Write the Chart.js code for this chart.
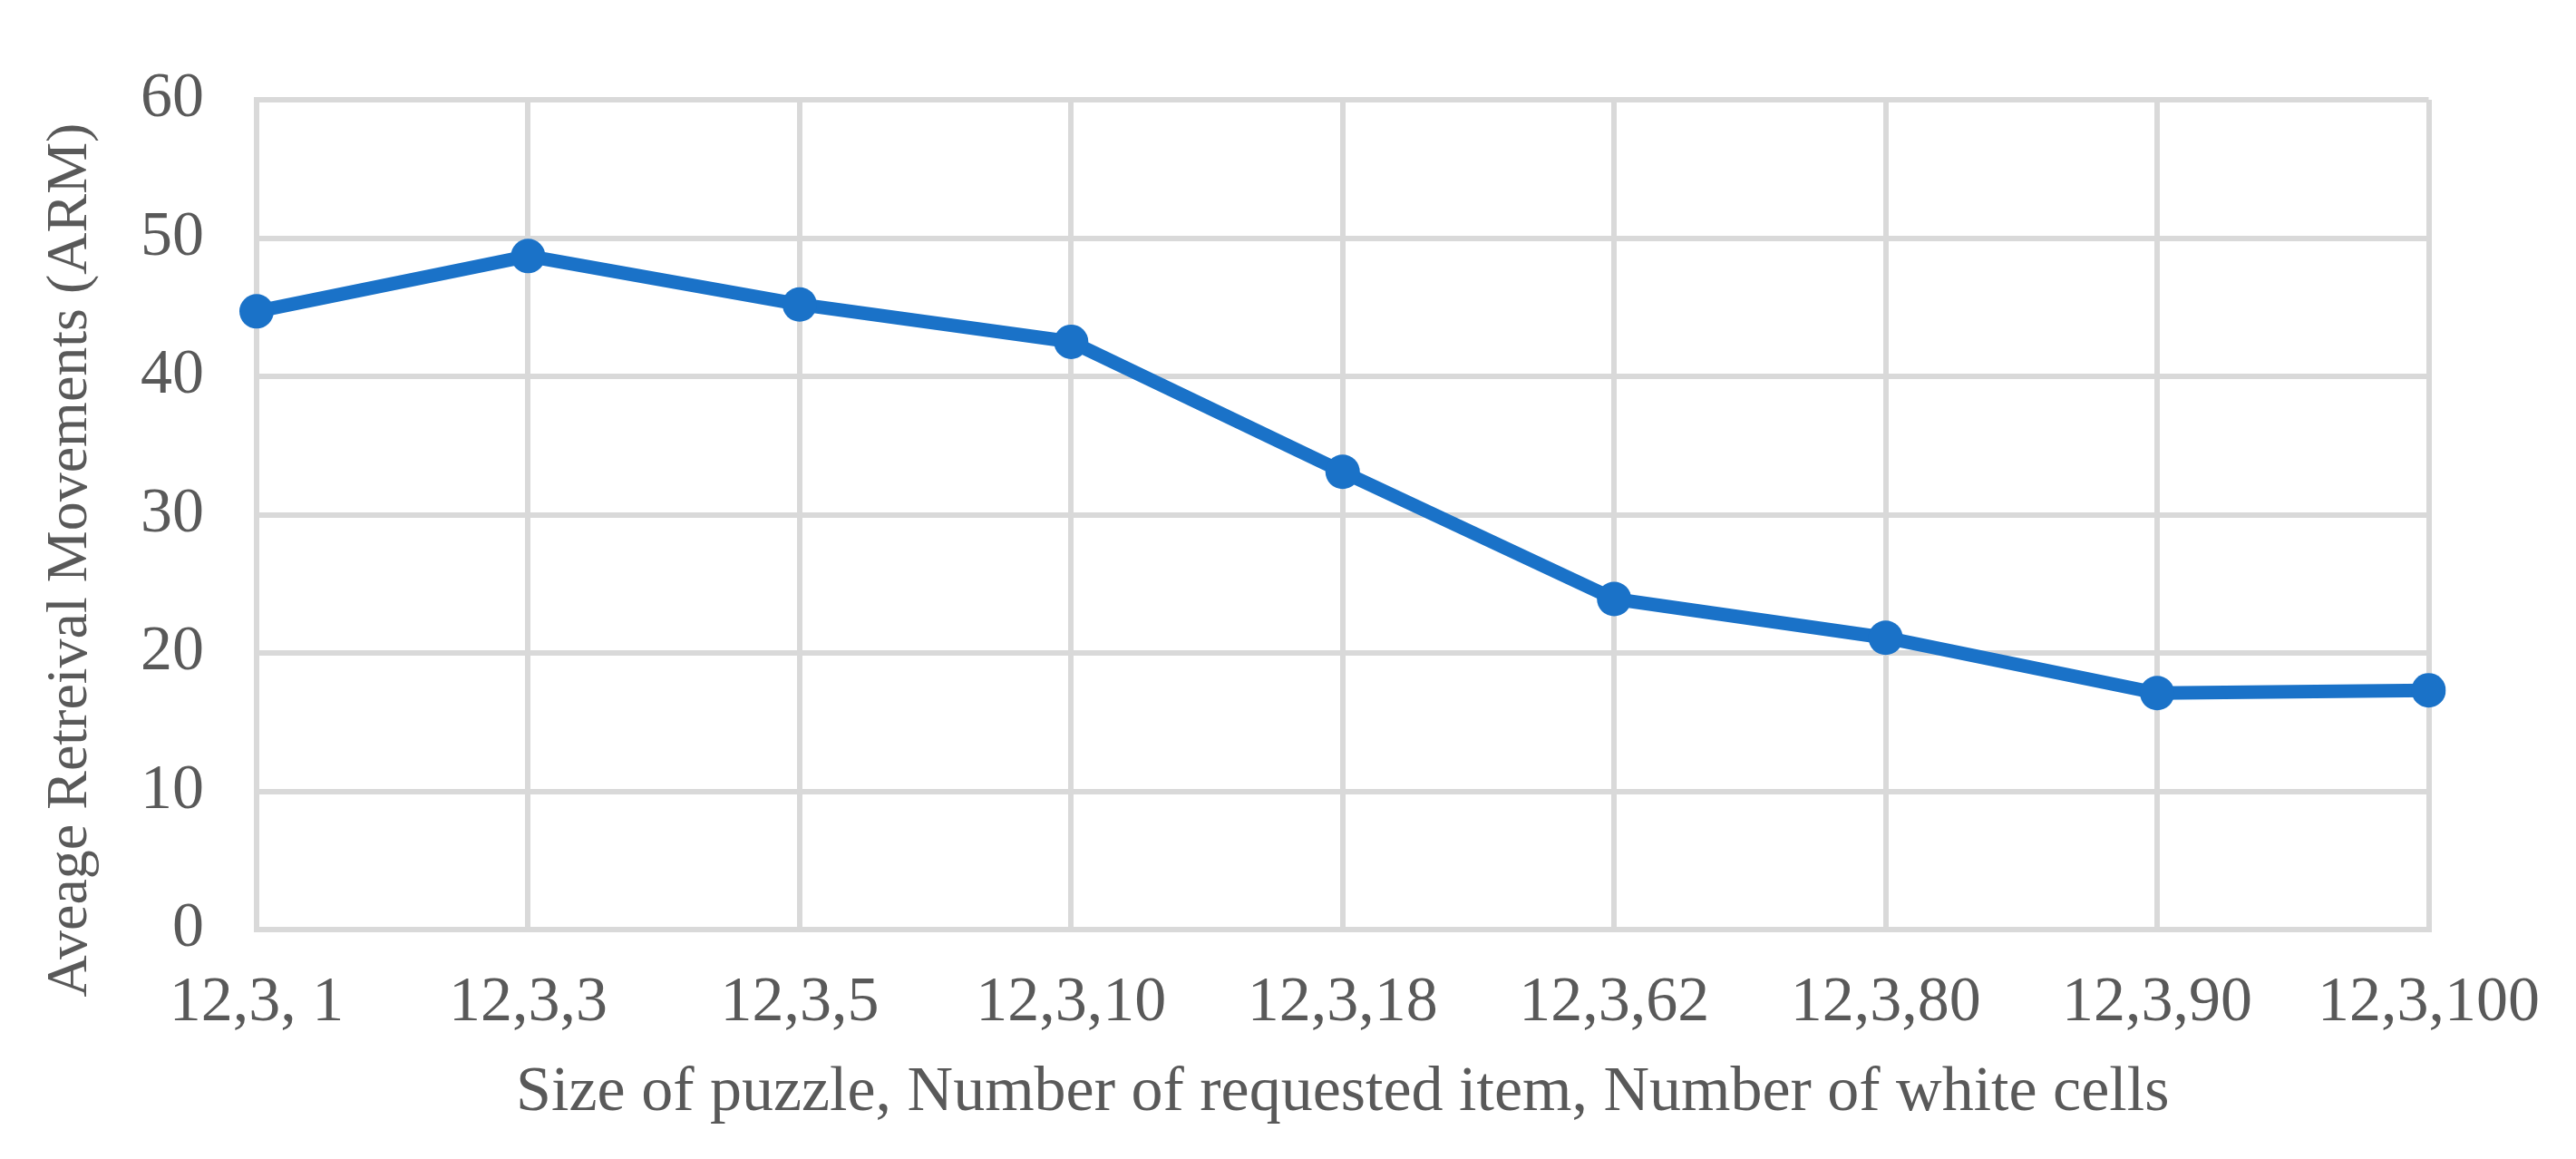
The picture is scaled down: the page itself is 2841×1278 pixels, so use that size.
<!DOCTYPE html>
<html>
<head>
<meta charset="utf-8">
<script src="https://cdn.jsdelivr.net/npm/chart.js@4.4.1/dist/chart.umd.min.js"></script>
<style>
  html, body { margin: 0; padding: 0; background: #ffffff; }
  #wrap { width: 2841px; height: 1278px; }
</style>
</head>
<body>
<div id="wrap"><canvas id="myChart" width="2841" height="1278"></canvas></div>
<script>
// data
var labels = ['12,3, 1', '12,3,3', '12,3,5', '12,3,10', '12,3,18', '12,3,62', '12,3,80', '12,3,90', '12,3,100'];
var armValues = [44.7, 48.7, 45.2, 42.5, 33.1, 23.9, 21.1, 17.1, 17.3];
var yTicks = [0, 10, 20, 30, 40, 50, 60];

var xTitle = 'Size of puzzle, Number of requested item, Number of white cells';
var yTitle = 'Aveage Retreival Movements (ARM)';

var textColor = '#595959';
var gridColor = '#d9d9d9';
var lineColor = '#1a72c8';
var fontFamily = '"Liberation Serif", "Times New Roman", serif';

// the y title sits a bit below the middle of the axis in the original
var yTitleShift = 50;
var yTitlePlugin = {
    id: 'yTitle',
    afterDraw: function (chart) {
        var area = chart.chartArea;
        var c = chart.ctx;
        c.save();
        c.translate(78, (area.top + area.bottom) / 2 + yTitleShift);
        c.rotate(-Math.PI / 2);
        c.font = '64px ' + fontFamily;
        c.fillStyle = textColor;
        c.textAlign = 'center';
        c.textBaseline = 'middle';
        c.fillText(yTitle, 0, 0);
        c.restore();
    }
};

const data = {
    labels: labels,
    datasets: [
        {
            label: 'ARM',
            data: armValues,
            borderColor: lineColor,
            backgroundColor: lineColor,
            borderWidth: 15,
            pointRadius: 19,
            pointHoverRadius: 19,
            pointBorderWidth: 0,
            tension: 0
        }
    ]
};

const config = {
    type: 'line',
    data: data,
    plugins: [yTitlePlugin],
    options: {
        responsive: false,
        animation: false,
        layout: {
            padding: { top: 110, right: 150, bottom: 0, left: 0 }
        },
        plugins: {
            legend: { display: false },
            tooltip: { enabled: false }
        },
        scales: {
            x: {
                offset: false,
                grid: {
                    color: gridColor,
                    lineWidth: 6,
                    drawTicks: false
                },
                border: { color: gridColor, width: 6 },
                ticks: {
                    color: textColor,
                    padding: 40,
                    maxRotation: 0,
                    autoSkip: false,
                    font: { family: fontFamily, size: 70, lineHeight: 1.2 }
                },
                title: {
                    display: true,
                    text: xTitle,
                    color: textColor,
                    padding: { top: 0, bottom: 30 },
                    font: { family: fontFamily, size: 70, lineHeight: 1.2 }
                },
                afterFit: function (scale) { scale.height = 253; }
            },
            y: {
                min: 0,
                max: 60,
                afterBuildTicks: function (scale) {
                    scale.ticks = yTicks.map(function (v) { return { value: v }; });
                },
                grid: {
                    color: gridColor,
                    lineWidth: 6,
                    drawTicks: false
                },
                border: { color: gridColor, width: 6 },
                ticks: {
                    color: textColor,
                    padding: 58,
                    font: { family: fontFamily, size: 70, lineHeight: 1.2 }
                },
                afterFit: function (scale) { scale.width = 283; }
            }
        }
    }
};

var ctx = document.getElementById('myChart').getContext('2d');
var myChart = new Chart(ctx, config);
</script>
</body>
</html>
